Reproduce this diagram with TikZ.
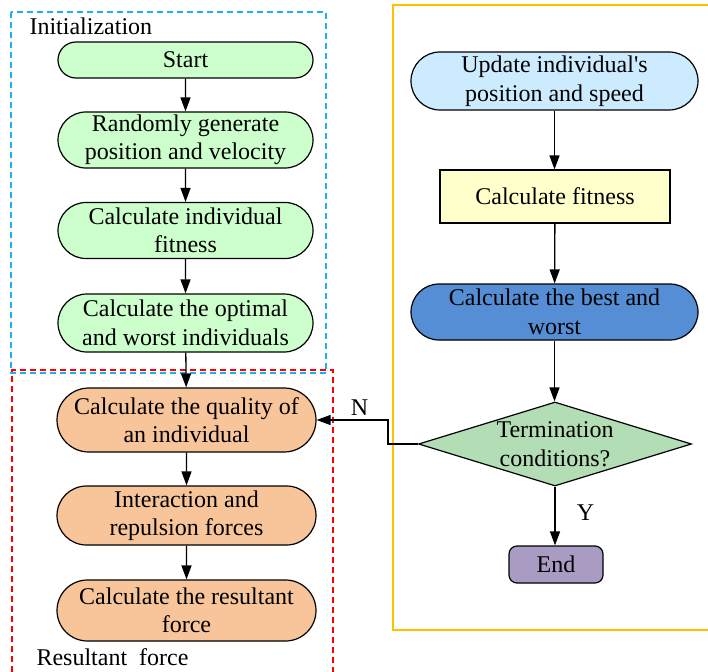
\documentclass[tikz,border=0pt]{standalone}
\usepackage{fontspec}
\setmainfont{Liberation Serif}
\usetikzlibrary{shapes.geometric}
\usetikzlibrary{shapes.misc}
\usetikzlibrary{arrows.meta}

\definecolor{initgreen}{HTML}{CCFFCC}
\definecolor{forceorange}{HTML}{F8C59A}
\definecolor{updateblue}{HTML}{CCEBFF}
\definecolor{fityellow}{HTML}{FFFFCC}
\definecolor{bestblue}{HTML}{558ED5}
\definecolor{termgreen}{HTML}{B3DEB5}
\definecolor{endpurple}{HTML}{A99BC2}
\definecolor{frameblue}{HTML}{1CB0EE}
\definecolor{frameyellow}{HTML}{FFC000}

\tikzset{
  stadium/.style={rounded rectangle, draw, line width=1.2pt, align=center,
    inner sep=0pt, font=\fontsize{24}{28.5}\selectfont},
  fitbox/.style={rectangle, draw, line width=1.2pt, align=center,
    font=\fontsize{24}{28.5}\selectfont},
  decision/.style={diamond, draw, line width=1.2pt, align=center, aspect=3.25,
    inner sep=0pt, font=\fontsize{24}{28.5}\selectfont},
  flow/.style={line width=1.3pt, -{Triangle[length=14pt,width=10pt]}},
  caption/.style={font=\fontsize{24}{28}\selectfont}
}

\begin{document}
\begin{tikzpicture}[x=1pt,y=-1pt]
\useasboundingbox (0,0) rectangle (708,671);

% Frames round the stages
\draw[frameblue, dashed, line width=1.2pt, dash pattern=on 6pt off 4pt] (11,12) rectangle (326,373);
\draw[red, dashed, line width=1.2pt, dash pattern=on 6pt off 4pt] (12,672) -- (12,370) -- (333,370) -- (333,672);
\draw[frameyellow, line width=1.5pt] (709,5) -- (393,5) -- (393,630) -- (709,630);

\node[caption, anchor=west] (initlabel) at (26,26) {Initialization};
\node[caption, anchor=west] (forcelabel) at (33,657) {Resultant\ \ force};

% Initialization
\node[stadium, fill=initgreen, minimum width=255pt, minimum height=36pt] (start) at (185.5,60) {Start};
\node[stadium, fill=initgreen, minimum width=255pt, minimum height=56pt] (generate) at (185.5,140) {Randomly generate\\position and velocity};
\node[stadium, fill=initgreen, minimum width=255pt, minimum height=56pt] (indfit) at (185.5,230.5) {Calculate individual\\fitness};
\node[stadium, fill=initgreen, minimum width=255pt, minimum height=58pt] (optimal) at (185.5,323) {Calculate the optimal\\and worst individuals};

% Resultant force
\node[stadium, fill=forceorange, minimum width=259pt, minimum height=64pt] (quality) at (186.5,420) {Calculate the quality of\\an individual};
\node[stadium, fill=forceorange, minimum width=259pt, minimum height=59pt] (repulsion) at (186.5,515.5) {Interaction and\\repulsion forces};
\node[stadium, fill=forceorange, minimum width=259pt, minimum height=61pt] (resultant) at (186.5,610.5) {Calculate the resultant\\force};

% Iteration
\node[stadium, fill=updateblue, minimum width=287pt, minimum height=58pt] (update) at (554.5,81) {Update individual\textquotesingle s\\position and speed};
\node[fitbox, fill=fityellow, minimum width=230pt, minimum height=53pt] (fitness) at (555,196.5) {Calculate fitness};
\node[stadium, fill=bestblue, minimum width=287pt, minimum height=56pt] (best) at (554.5,312) {Calculate the best and\\worst};
\node[decision, fill=termgreen, minimum width=273pt, minimum height=84pt] (term) at (555,444) {Termination\\conditions?};
\node[fitbox, fill=endpurple, rounded corners=8pt, minimum width=94pt, minimum height=37pt, inner sep=0pt] (end) at (556,564.5) {End};

% Connectors
\draw[flow] (start) -- (generate);
\draw[flow] (generate) -- (indfit);
\draw[flow] (indfit) -- (optimal);
\draw[flow] (optimal) -- (quality);
\draw[flow] (quality) -- (repulsion);
\draw[flow] (repulsion) -- (resultant);
\draw[flow] (update.south) -- (update.south |- fitness.north);
\draw[flow] (fitness) -- (best);
\draw[flow] (best.south) -- (best.south |- term.north);
\draw[flow] (term.south) -- (term.south |- end.north) node[pos=0.45, right=18pt, caption] (ylabel) {Y};
\coordinate (turn) at (388,444);
\draw[flow] (term.west) -- (turn) -- (turn |- quality.east) -- (quality.east) node[pos=0.4, above=1pt, caption] (nlabel) {N};
\end{tikzpicture}
\end{document}
